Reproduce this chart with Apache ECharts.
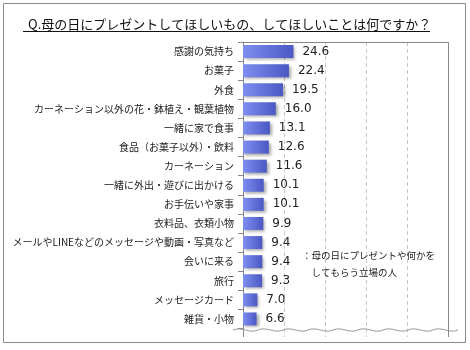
<!DOCTYPE html>
<html>
<head>
<meta charset="utf-8">
<script src="https://cdn.jsdelivr.net/npm/echarts@6/dist/echarts.min.js"></script>
<style>html,body{margin:0;padding:0;background:#fff;}#c{width:470px;height:350px;}</style>
</head>
<body>
<div id="c"></div>
<script>
var titleText = 'Q.母の日にプレゼントしてほしいもの、してほしいことは何ですか？';
var categories = ['感謝の気持ち','お菓子','外食','カーネーション以外の花・鉢植え・観葉植物','一緒に家で食事','食品（お菓子以外）・飲料','カーネーション','一緒に外出・遊びに出かける','お手伝いや家事','衣料品、衣類小物','メールやLINEなどのメッセージや動画・写真など','会いに来る','旅行','メッセージカード','雑貨・小物'];
var values = [24.6,22.4,19.5,16.0,13.1,12.6,11.6,10.1,10.1,9.9,9.4,9.4,9.3,7.0,6.6];
var xTicks = [0,20,40,60,80,100];
var legendLines = ['：母の日にプレゼントや何かを','　してもらう立場の人'];

var JP = '"Noto Sans CJK JP", sans-serif';
var chart = echarts.init(document.getElementById('c'), null, {renderer:'canvas'});
var G = {left:243, right:22, top:42, bottom:21.5};
chart.setOption({
  animation:false,
  backgroundColor:'#fff',
  title:{text:titleText, left:23, top:13, textStyle:{fontFamily:JP, fontSize:13, fontWeight:'normal', color:'#111'}},
  grid:{left:G.left, right:G.right, top:G.top, bottom:G.bottom, containLabel:false},
  xAxis:{type:'value', min:0, max:100, interval:20, axisLabel:{show:false}, axisTick:{show:false}, axisLine:{show:false},
    splitLine:{show:true, lineStyle:{color:'#c8c8c8', type:[4,3]}}},
  yAxis:{type:'category', inverse:true, data:categories,
    axisLine:{show:true, lineStyle:{color:'#888'}},
    axisTick:{show:true, length:5, lineStyle:{color:'#888'}},
    axisLabel:{fontFamily:JP, fontSize:10, color:'#222', margin:9}},
  series:[{type:'bar', data:values, barWidth:13,
    itemStyle:{color:new echarts.graphic.LinearGradient(0,0,1,0,[{offset:0,color:'#7f8ef0'},{offset:1,color:'#4a58c4'}]),
      shadowColor:'rgba(0,0,0,0.35)', shadowBlur:3, shadowOffsetX:2, shadowOffsetY:2},
    label:{show:true, position:'right', distance:9, fontFamily:'"DejaVu Sans", sans-serif', fontSize:12, color:'#222',
      formatter:function(p){return p.value.toFixed(1);}}
  }]
});

// decorations: frame, underline, plot borders, axis break
var xs = xTicks.map(function(t){return chart.convertToPixel({xAxisIndex:0}, t);});
var plotTop = G.top, plotBottom = 350 - G.bottom, ext = 337;
var els = [];
els.push({type:'rect', shape:{x:3.5,y:3.5,width:462,height:339}, style:{fill:null, stroke:'#8a8a8a', lineWidth:1}, z:0});
els.push({type:'line', shape:{x1:23,y1:31.5,x2:430,y2:31.5}, style:{stroke:'#111', lineWidth:1}});
els.push({type:'line', shape:{x1:xs[0],y1:plotTop+0.5,x2:xs[xs.length-1],y2:plotTop+0.5}, style:{stroke:'#888', lineWidth:1}});
els.push({type:'line', shape:{x1:xs[xs.length-1]+0.5,y1:plotTop,x2:xs[xs.length-1]+0.5,y2:ext}, style:{stroke:'#888', lineWidth:1}});
els.push({type:'line', shape:{x1:xs[0]+0.5,y1:plotBottom,x2:xs[0]+0.5,y2:ext}, style:{stroke:'#888', lineWidth:1}});
for (var i=1;i<xs.length-1;i++){
  els.push({type:'line', shape:{x1:xs[i]+0.5,y1:plotBottom,x2:xs[i]+0.5,y2:ext}, style:{stroke:'#c8c8c8', lineWidth:1, lineDash:[4,3]}});
}
// wavy break line (decoration)
var wy = 330, wx0 = 233, wx1 = 458, per = 25;
for (var x=wx0; x<wx1; x+=per){
  els.push({type:'bezierCurve', shape:{x1:x, y1:wy, cpx1:x+per/3, cpy1:wy-4, cpx2:x+2*per/3, cpy2:wy+4, x2:x+per, y2:wy},
    style:{fill:null, stroke:'#999', lineWidth:1}, z:10});
}
els.push({type:'text', left:302, top:247, style:{text:legendLines.join('\n'), font:'9.5px "Noto Sans CJK JP"', fill:'#222', lineHeight:17}});
chart.setOption({graphic:els});
</script>
</body>
</html>
